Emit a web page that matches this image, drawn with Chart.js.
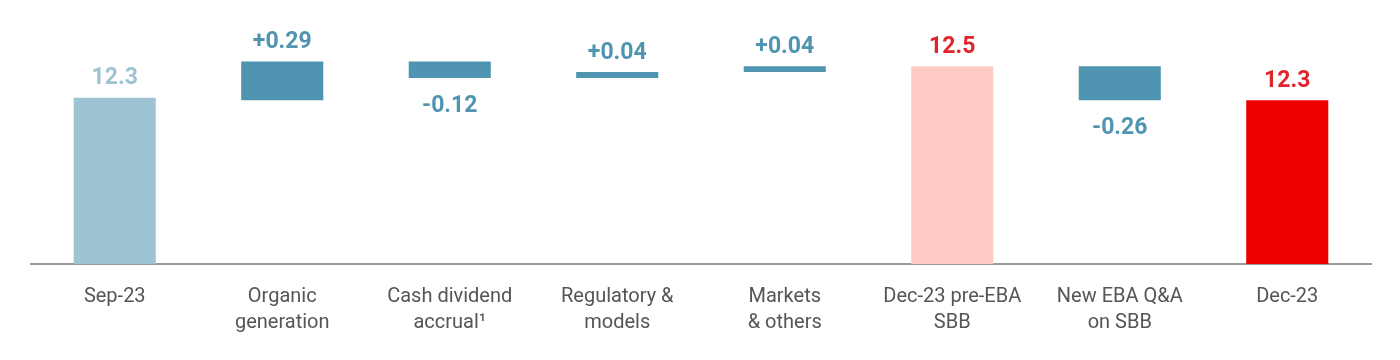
<!DOCTYPE html>
<html>
<head>
<meta charset="utf-8">
<script src="https://cdn.jsdelivr.net/npm/chart.js@4"></script>
<style>
  body { margin: 0; background: #fff; }
  #wrap { width: 1400px; height: 360px; }
</style>
</head>
<body>
<div id="wrap"><canvas id="myChart"></canvas></div>
<script>
const categories = [
  ["Sep-23"],
  ["Organic", "generation"],
  ["Cash dividend", "accrual¹"],
  ["Regulatory &", "models"],
  ["Markets", "& others"],
  ["Dec-23 pre-EBA", "SBB"],
  ["New EBA Q&A", "on SBB"],
  ["Dec-23"]
];
// floating bars: where each bar starts and ends
const barFrom = [11, 12.25, 12.545, 12.42, 12.465, 11, 12.51, 11];
const barTo = [12.27, 12.545, 12.42, 12.465, 12.51, 12.51, 12.25, 12.25];
const valueLabels = ["12.3", "+0.29", "-0.12", "+0.04", "+0.04", "12.5", "-0.26", "12.3"];
const barColors = ["#9ec3d3", "#4f94b0", "#4f94b0", "#4f94b0", "#4f94b0", "#fecac6", "#4f94b0", "#ec0000"];
const labelColors = ["#9ec3d3", "#4f94b0", "#4f94b0", "#4f94b0", "#4f94b0", "#e0242b", "#4f94b0", "#e0242b"];

const valueLabelPlugin = {
  id: "valueLabels",
  afterDatasetsDraw(chart) {
    const ctx = chart.ctx;
    const bars = chart.getDatasetMeta(0).data;
    ctx.save();
    ctx.font = "bold 23px Roboto";
    ctx.textAlign = "center";
    ctx.textBaseline = "alphabetic";
    bars.forEach((bar, i) => {
      const top = Math.min(bar.y, bar.base);
      const bottom = Math.max(bar.y, bar.base);
      ctx.fillStyle = labelColors[i];
      if (valueLabels[i].startsWith("-")) {
        ctx.fillText(valueLabels[i], bar.x, bottom + 34);
      } else {
        ctx.fillText(valueLabels[i], bar.x, top - 13.5);
      }
    });
    ctx.restore();
  }
};

new Chart("myChart", {
  type: "bar",
  data: {
    labels: categories,
    datasets: [{
      data: barFrom.map((v, i) => [v, barTo[i]]),
      backgroundColor: barColors,
      borderWidth: 0,
      categoryPercentage: 1,
      barPercentage: 0.49
    }]
  },
  options: {
    responsive: true,
    maintainAspectRatio: false,
    animation: false,
    layout: { padding: { top: 2, left: 31, right: 29, bottom: 0 } },
    scales: {
      x: {
        grid: { display: false, drawTicks: false },
        border: { display: true, color: "#9a9a9a", width: 2 },
        ticks: {
          color: "#555555",
          padding: 20,
          font: { family: "Roboto", size: 20, lineHeight: 1.3 }
        },
        afterFit(scale) { scale.height = 96; }
      },
      y: {
        display: false,
        min: 11,
        max: 13
      }
    },
    plugins: {
      legend: { display: false },
      tooltip: { enabled: false }
    }
  },
  plugins: [valueLabelPlugin]
});
</script>
</body>
</html>
